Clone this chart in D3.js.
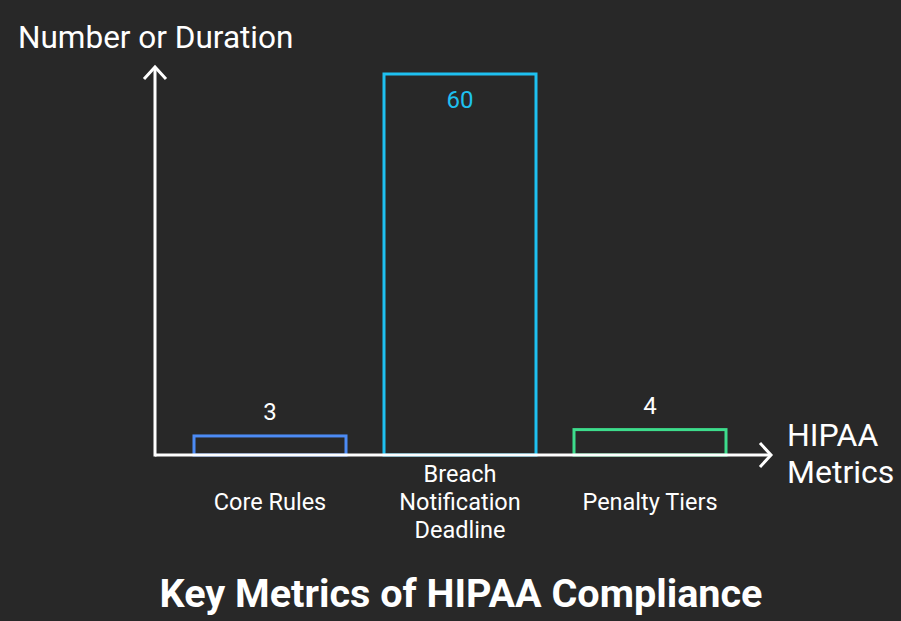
<!DOCTYPE html>
<html>
<head>
<meta charset="utf-8">
<script src="https://cdn.jsdelivr.net/npm/d3@7"></script>
<style>
  html, body { margin: 0; padding: 0; background: #282828; }
  svg { display: block; }
  text { font-family: Roboto, "Noto Sans", sans-serif; }
</style>
</head>
<body>
<script>
const categories = ["Core Rules", "Breach Notification Deadline", "Penalty Tiers"];
const categoryLines = [["Core Rules"], ["Breach", "Notification", "Deadline"], ["Penalty Tiers"]];
const values = [3, 60, 4];
const colors = ["#4C8BF5", "#1EC0F0", "#3DDC8C"];
const yTitle = "Number or Duration";
const xTitleLines = ["HIPAA", "Metrics"];
const title = "Key Metrics of HIPAA Compliance";

const W = 901, H = 621;
const svg = d3.select("body").append("svg").attr("width", W).attr("height", H);
svg.append("rect").attr("width", W).attr("height", H).attr("fill", "#282828");

const x = d3.scaleBand().domain(categories).range([175, 745]).paddingInner(0.2).paddingOuter(0.1);
const y = d3.scaleLinear().domain([0, 60]).range([455, 74]);

// bars
svg.selectAll("rect.bar").data(values).enter().append("rect")
  .attr("class", "bar")
  .attr("x", (d, i) => x(categories[i]))
  .attr("y", d => y(d))
  .attr("width", x.bandwidth())
  .attr("height", d => y(0) - y(d))
  .attr("fill", "none")
  .attr("stroke", (d, i) => colors[i])
  .attr("stroke-width", 3);

// value labels
svg.selectAll("text.val").data(values).enter().append("text")
  .attr("class", "val")
  .attr("x", (d, i) => x(categories[i]) + x.bandwidth() / 2)
  .attr("y", d => d > 30 ? y(d) + 34 : y(d) - 16)
  .attr("text-anchor", "middle")
  .attr("font-size", 24)
  .attr("fill", (d, i) => d > 30 ? colors[i] : "#ffffff")
  .text(d => d);

// axes
const x0 = 155, y0 = y(0);
svg.append("line").attr("x1", x0).attr("y1", y0).attr("x2", 771).attr("y2", y0)
  .attr("stroke", "#fff").attr("stroke-width", 3);
svg.append("line").attr("x1", x0).attr("y1", y0 + 1.5).attr("x2", x0).attr("y2", 67)
  .attr("stroke", "#fff").attr("stroke-width", 3);
svg.append("path").attr("d", `M${760},${443} L${771},${y0} L${760},${467}`)
  .attr("fill", "none").attr("stroke", "#fff").attr("stroke-width", 3);
svg.append("path").attr("d", `M${x0 - 11},${79} L${x0},${67} L${x0 + 11},${79}`)
  .attr("fill", "none").attr("stroke", "#fff").attr("stroke-width", 3);

// category labels
categories.forEach((c, i) => {
  const lines = categoryLines[i];
  const cx = x(c) + x.bandwidth() / 2;
  const t = svg.append("text").attr("text-anchor", "middle").attr("font-size", 23.5).attr("fill", "#fff");
  lines.forEach((l, j) => {
    t.append("tspan").attr("x", cx).attr("y", (lines.length === 1 ? 509.5 : 481.5) + j * 28).text(l);
  });
});

// axis titles
svg.append("text").attr("x", 18).attr("y", 48).attr("font-size", 31.5).attr("fill", "#fff").text(yTitle);
const xt = svg.append("text").attr("font-size", 32).attr("fill", "#fff");
xTitleLines.forEach((l, j) => xt.append("tspan").attr("x", 787).attr("y", 446 + j * 37).text(l));

// title
svg.append("text").attr("x", 461).attr("y", 607).attr("text-anchor", "middle")
  .attr("font-size", 39.6).attr("font-weight", "bold").attr("fill", "#fff").text(title);
</script>
</body>
</html>
